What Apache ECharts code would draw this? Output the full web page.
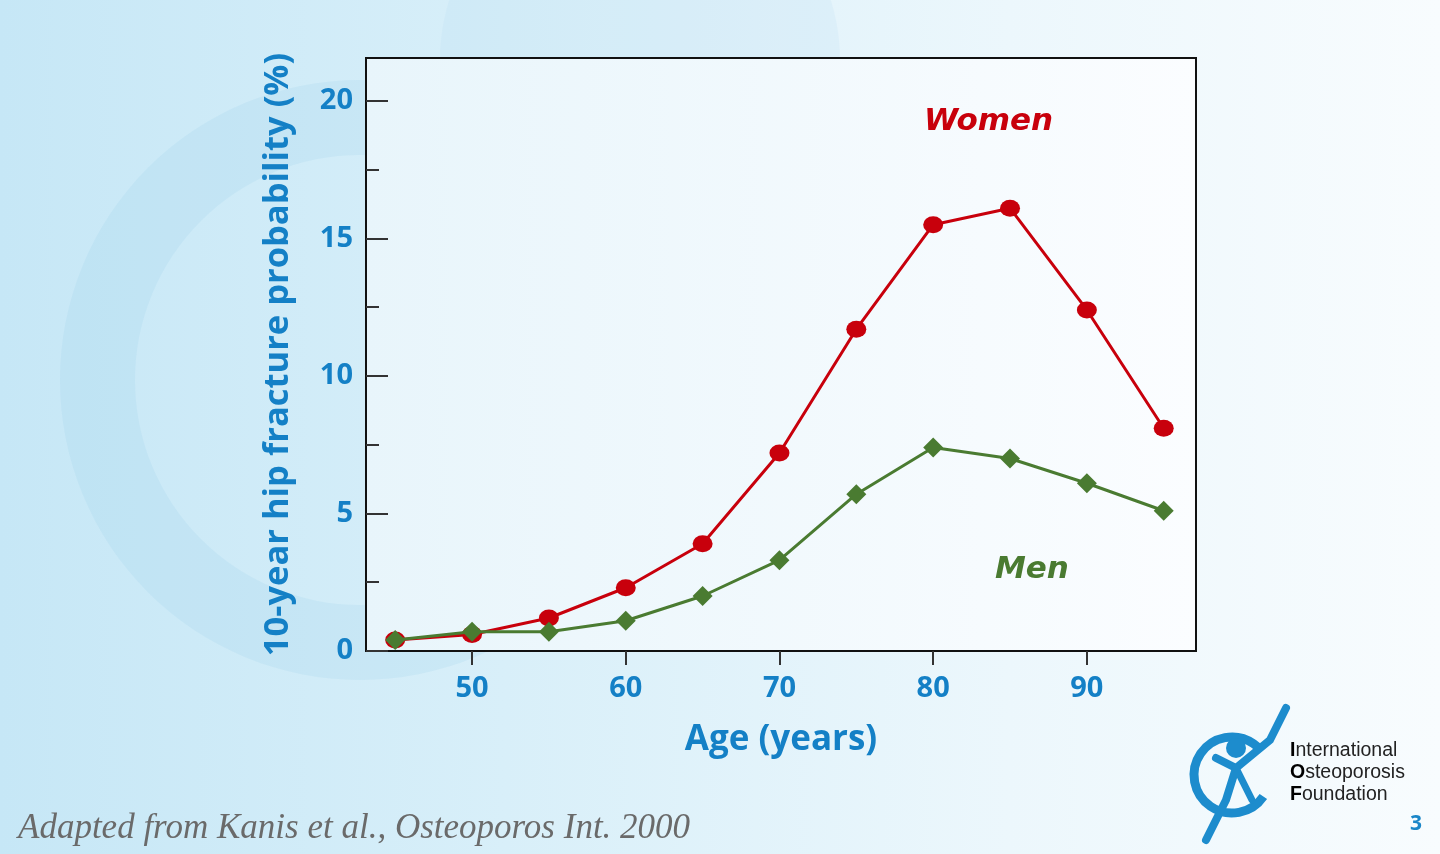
<!DOCTYPE html>
<html>
<head>
<meta charset="utf-8">
<script src="https://cdn.jsdelivr.net/npm/echarts@6/dist/echarts.min.js"></script>
<style>
  html, body { margin: 0; padding: 0; }
  body { background: linear-gradient(90deg, #c6e7f6 0%, #d8eff9 35%, #ecf7fc 70%, #f8fcfe 100%); }
  #main { width: 1440px; height: 854px; }
</style>
</head>
<body>
<div id="main"></div>
<script>
// 10-year hip fracture probability by age
var ages = [45, 50, 55, 60, 65, 70, 75, 80, 85, 90, 95];
var women = [0.4, 0.6, 1.2, 2.3, 3.9, 7.2, 11.7, 15.5, 16.1, 12.4, 8.1];
var men = [0.4, 0.7, 0.7, 1.1, 2.0, 3.3, 5.7, 7.4, 7.0, 6.1, 5.1];
var xTicks = [50, 60, 70, 80, 90];
var yTicks = [0, 5, 10, 15, 20];
var yMinorTicks = [2.5, 7.5, 12.5, 17.5];

var blue = '#1480c6';

function pairs(ys) {
    return ages.map(function (a, i) { return [a, ys[i]]; });
}

window.addEventListener('load', function () {
    var chart = echarts.init(document.getElementById('main'));

    var option = {
        backgroundColor: 'transparent',
        animation: false,
        grid: {
            left: 366, top: 58, right: 244, bottom: 203,
            show: true,
            borderColor: '#111',
            borderWidth: 2,
            backgroundColor: new echarts.graphic.LinearGradient(0, 0, 1, 0, [
                { offset: 0, color: '#e8f5fb' },
                { offset: 1, color: '#fbfdff' }
            ])
        },
        xAxis: {
            type: 'value',
            min: 43.1,
            max: 97.1,
            name: 'Age (years)',
            nameLocation: 'middle',
            nameGap: 72,
            nameTextStyle: { color: blue, fontSize: 35, fontWeight: 'bold', fontFamily: 'Open Sans' },
            axisLine: { show: true, lineStyle: { color: '#111', width: 2 } },
            axisTick: { show: true, customValues: xTicks, length: 14, lineStyle: { color: '#333', width: 2 } },
            axisLabel: { customValues: xTicks, margin: 23, color: blue, fontSize: 29, fontWeight: 'bold', fontFamily: 'Open Sans' },
            splitLine: { show: false }
        },
        yAxis: [{
            type: 'value',
            min: 0,
            max: 21.56,
            name: '10-year hip fracture probability (%)',
            nameLocation: 'middle',
            nameRotate: 90,
            nameGap: 70,
            nameTextStyle: { color: blue, fontSize: 34.5, fontWeight: 'bold', fontFamily: 'Open Sans' },
            axisLine: { show: true, lineStyle: { color: '#111', width: 2 } },
            axisTick: { show: true, inside: true, customValues: yTicks, length: 22, lineStyle: { color: '#333', width: 2 } },
            axisLabel: { customValues: yTicks, margin: 13, color: blue, fontSize: 29, fontWeight: 'bold', fontFamily: 'Open Sans' },
            splitLine: { show: false }
        }, {
            type: 'value',
            position: 'left',
            min: 0,
            max: 21.56,
            axisLine: { show: false },
            axisTick: { show: true, inside: true, customValues: yMinorTicks, length: 13, lineStyle: { color: '#333', width: 2 } },
            axisLabel: { show: false },
            splitLine: { show: false }
        }],
        series: [{
            name: 'Women',
            type: 'line',
            data: pairs(women),
            symbol: 'circle',
            symbolSize: [20, 17],
            lineStyle: { color: '#c8000c', width: 3 },
            itemStyle: { color: '#c8000c' },
            z: 2
        }, {
            name: 'Men',
            type: 'line',
            data: pairs(men),
            symbol: 'diamond',
            symbolSize: [20, 20],
            lineStyle: { color: '#4a7b31', width: 3 },
            itemStyle: { color: '#4a7b31' },
            z: 3
        }],
        graphic: [
            // faint watermark swirls
            { type: 'ring', shape: { cx: 360, cy: 380, r: 300, r0: 225 }, style: { fill: 'rgba(150,205,232,0.18)' }, z: -10 },
            { type: 'circle', shape: { cx: 640, cy: 60, r: 200 }, style: { fill: 'rgba(170,215,238,0.14)' }, z: -10 },
            { type: 'text', left: 924, top: 106, style: { text: 'Women', fill: '#c8000c', font: 'italic bold 31px "DejaVu Sans"' } },
            { type: 'text', left: 995, top: 554, style: { text: 'Men', fill: '#4a7b31', font: 'italic bold 31px "DejaVu Sans"' } },
            { type: 'text', left: 18, top: 811, style: { text: 'Adapted from Kanis et al., Osteoporos Int. 2000', fill: '#6a6a6a', font: 'italic 35px "Liberation Serif"' } },
            // IOF logo (simplified)
            { type: 'arc', shape: { cx: 1232, cy: 775, r: 38, startAngle: 0.6, endAngle: 5.6 }, style: { stroke: '#1d8ccd', lineWidth: 9, fill: null } },
            { type: 'circle', shape: { cx: 1236, cy: 748, r: 10 }, style: { fill: '#1d8ccd' } },
            { type: 'polyline', shape: { points: [[1216, 758], [1236, 768], [1270, 740], [1286, 708]] }, style: { stroke: '#1d8ccd', lineWidth: 8, fill: null, lineCap: 'round' } },
            { type: 'polyline', shape: { points: [[1236, 768], [1226, 800], [1206, 840]] }, style: { stroke: '#1d8ccd', lineWidth: 8, fill: null, lineCap: 'round' } },
            { type: 'polyline', shape: { points: [[1236, 768], [1252, 800]] }, style: { stroke: '#1d8ccd', lineWidth: 7, fill: null, lineCap: 'round' } },
            {
                type: 'text', left: 1290, top: 740,
                style: {
                    text: '{b|I}nternational\n{b|O}steoporosis\n{b|F}oundation',
                    fill: '#222', font: '19.5px "Liberation Sans"', lineHeight: 22,
                    rich: { b: { fontWeight: 'bold', fontSize: 19.5, fill: '#000', fontFamily: 'Liberation Sans' } }
                }
            },
            { type: 'text', left: 1410, top: 814, style: { text: '3', fill: '#1a86c8', font: 'bold 21px "Open Sans"' } }
        ]
    };

    chart.setOption(option);
}, false);
</script>
</body>
</html>
